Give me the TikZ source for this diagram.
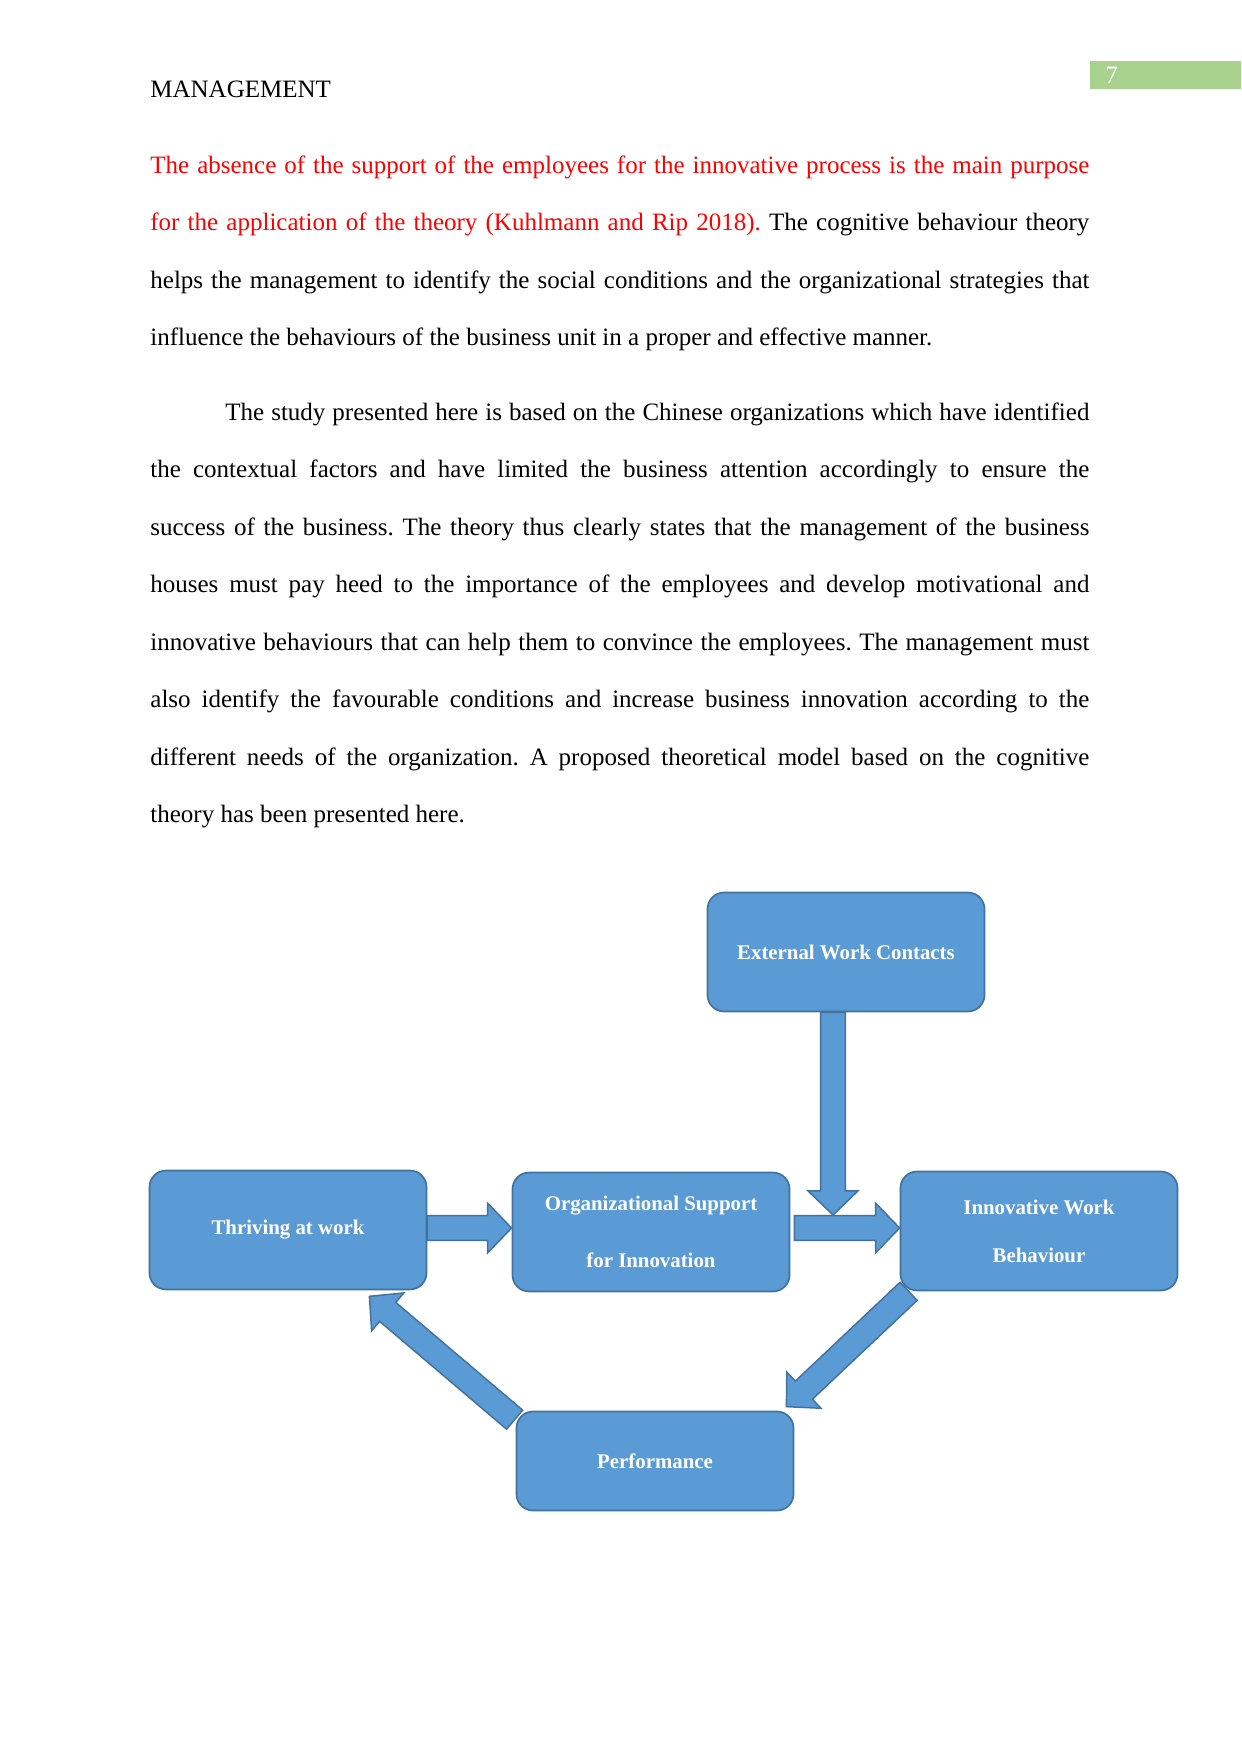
\documentclass[tikz,border=0pt]{standalone}
\usepackage{fontspec}
\setmainfont{Liberation Serif}
\usetikzlibrary{calc}
\frenchspacing

\definecolor{boxblue}{HTML}{5B9BD5}
\definecolor{boxline}{HTML}{41719C}
\definecolor{pagegreen}{HTML}{A9D18E}

\tikzset{
  modelbox/.style={draw=boxline, fill=boxblue, line width=0.8pt, rounded corners=8pt,
    minimum width=133.5pt, minimum height=57.3pt, inner sep=0pt, align=center,
    text=white, font=\fontsize{10bp}{12bp}\selectfont\bfseries},
  blockarrow/.style={draw=boxline, fill=boxblue, line width=0.7pt, line join=miter},
  bodytext/.style={anchor=base west, inner sep=0pt, text width=452.4pt, align=justify,
    font=\fontsize{12bp}{27.6bp}\selectfont}
}

% block arrow from #1 to #2 (tip)
\newcommand{\modelarrow}[2]{%
  \coordinate (hb) at ($(#2)!11.6pt!(#1)$);
  \draw[blockarrow] ($(#1)!6pt!90:(#2)$) -- ($(hb)!6pt!-90:(#1)$) -- ($(hb)!12pt!-90:(#1)$)
    -- (#2) -- ($(hb)!12pt!90:(#1)$) -- ($(hb)!6pt!90:(#1)$) -- ($(#1)!6pt!-90:(#2)$) -- cycle;}

\begin{document}
\begin{tikzpicture}[x=0.16933mm, y=-0.16933mm]
  \useasboundingbox (0,0) rectangle (1241,1754);

  % page header
  \node[anchor=base west, inner sep=0pt, font=\fontsize{12bp}{14bp}\selectfont] (header) at (150,97) {MANAGEMENT};
  \fill[pagegreen] (1090,61) rectangle (1241,89);
  \node[anchor=base west, inner sep=0pt, text=white, font=\fontsize{12bp}{14bp}\selectfont] (pagenum) at (1105,83) {7};

  % text
  \node[bodytext] (para1) at (150,173) {\hyphenpenalty=10000
    \textcolor{red}{The absence of the support of the employees for the innovative process is the main purpose}\linebreak
    \textcolor{red}{for the application of the theory (Kuhlmann and Rip 2018).} The cognitive behaviour theory\linebreak
    helps the management to identify the social conditions and the organizational strategies that\linebreak
    influence the behaviours of the business unit in a proper and effective manner.};
  \node[bodytext] (para2) at (150,420) {\hyphenpenalty=10000
    \hspace*{36bp}The study presented here is based on the Chinese organizations which have identified\linebreak
    the contextual factors and have limited the business attention accordingly to ensure the\linebreak
    success of the business. The theory thus clearly states that the management of the business\linebreak
    houses must pay heed to the importance of the employees and develop motivational and\linebreak
    innovative behaviours that can help them to convince the employees. The management must\linebreak
    also identify the favourable conditions and increase business innovation according to the\linebreak
    different needs of the organization. A proposed theoretical model based on the cognitive\linebreak
    theory has been presented here.};

  % model
  \node[modelbox] (ext) at (846,952) {External Work Contacts};
  \node[modelbox] (thrive) at (288,1230) {Thriving at work};
  \node[modelbox, font=\fontsize{10bp}{27.6bp}\selectfont\bfseries] (orgsup) at (651,1232) {Organizational Support\\for Innovation};
  \node[modelbox, font=\fontsize{10bp}{23bp}\selectfont\bfseries] (innov) at (1039,1231) {Innovative Work\\Behaviour};
  \node[modelbox, minimum height=47.7pt] (perf) at (655,1461) {Performance};

  \coordinate (thr-out) at (thrive.east |- 0,1228);
  \coordinate (org-in) at (orgsup.west |- 0,1228);
  \coordinate (org-out) at ($(orgsup.east |- 0,1228)+(4,0)$);
  \coordinate (inn-in) at (innov.west |- 0,1228);
  \coordinate (ext-out) at ($(ext.south)+(-13,0)$);
  \coordinate (ext-in) at (ext-out |- 0,1215);
  \coordinate (inn-out) at ($(innov.south west)+(9,0)$);
  \coordinate (perf-in) at ($(perf.north east)+(-8,-4)$);
  \coordinate (perf-out) at ($(perf.north west)+(-1,9)$);
  \coordinate (thr-in) at ($(thrive.south east)+(-58,6)$);

  \modelarrow{thr-out}{org-in}
  \modelarrow{ext-out}{ext-in}
  \modelarrow{org-out}{inn-in}
  \modelarrow{inn-out}{perf-in}
  \modelarrow{perf-out}{thr-in}
\end{tikzpicture}
\end{document}
